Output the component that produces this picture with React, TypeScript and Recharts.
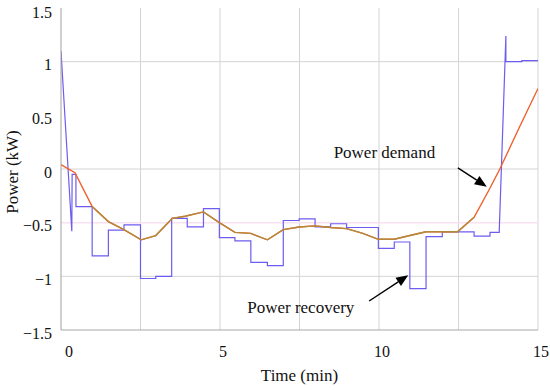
import React from 'react';
import {
  LineChart,
  Line,
  XAxis,
  YAxis,
  CartesianGrid,
  ReferenceLine,
  ReferenceDot,
} from 'recharts';

// stepped power recovery trace (min, kW)
const recoveryTime = [
  0, 0.34, 0.35, 0.47, 0.47, 0.98, 0.98, 1.49, 1.49, 1.98, 1.98, 2.5, 2.5, 2.98, 2.98, 3.48,
  3.48, 3.97, 3.97, 4.48, 4.48, 4.98, 4.98, 5.47, 5.47, 5.97, 5.97, 6.49, 6.49, 6.99, 6.99,
  7.49, 7.49, 7.99, 7.99, 8.48, 8.48, 8.98, 8.98, 9.98, 9.98, 10.48, 10.48, 10.97, 10.97,
  11.48, 11.48, 11.99, 11.99, 12.99, 12.99, 13.49, 13.49, 13.78, 13.99, 13.99, 14.49, 14.49, 15,
];
const recoveryPower = [
  1.1, -0.58, -0.05, -0.05, -0.35, -0.35, -0.81, -0.81, -0.57, -0.57, -0.52, -0.52, -1.02,
  -1.02, -1.0, -1.0, -0.46, -0.46, -0.54, -0.54, -0.37, -0.37, -0.64, -0.64, -0.67, -0.67,
  -0.87, -0.87, -0.9, -0.9, -0.48, -0.48, -0.465, -0.465, -0.54, -0.54, -0.51, -0.51, -0.545,
  -0.545, -0.74, -0.74, -0.68, -0.68, -1.115, -1.115, -0.63, -0.63, -0.585, -0.585, -0.625,
  -0.625, -0.59, -0.59, 1.24, 1.0, 1.0, 1.01, 1.01,
];

// smooth power demand curve (min, kW)
const demandTime = [
  0, 0.44, 0.98, 1.49, 1.98, 2.52, 2.98, 3.5, 3.9, 4.48, 4.98, 5.47, 5.97, 6.49, 6.99, 7.49,
  7.99, 8.48, 8.98, 9.49, 9.98, 10.48, 10.97, 11.48, 11.99, 12.47, 12.99, 13.45, 13.8, 14.4, 15,
];
const demandPower = [
  0.04, -0.035, -0.35, -0.49, -0.565, -0.66, -0.62, -0.46, -0.44, -0.4, -0.5, -0.59, -0.6,
  -0.66, -0.565, -0.54, -0.53, -0.545, -0.555, -0.6, -0.655, -0.655, -0.62, -0.585, -0.585,
  -0.585, -0.45, -0.2, 0.0, 0.38, 0.75,
];

const yTicks = [-1.5, -1, -0.5, 0, 0.5, 1, 1.5];
const xTicks = [0, 5, 10, 15];
const gridY = [1.5, 1, 0, -1];
const gridX = [2.5, 5, 7.5, 10, 12.5, 15];

const recovery = recoveryTime.map((t, i) => ({ t, p: recoveryPower[i] }));
const demand = demandTime.map((t, i) => ({ t, p: demandPower[i] }));
// middle part of the demand curve is drawn darker (olive)
const demandMid = demand.filter((d) => d.t >= 0.98 && d.t <= 12.99);

const font = '"Liberation Serif", "Times New Roman", serif';

const fmt = (v: number) => String(v).replace('-', '\u2212');

const XTick = (props: any) => {
  const { x, y, payload } = props;
  const dx = payload.value === 0 ? 8 : 3;
  return (
    <text x={x + dx} y={y} dy="0.71em" textAnchor="middle" fontSize={16} fontFamily={font} fill="#111">
      {payload.value}
    </text>
  );
};

// y tick labels sit right-aligned just left of the axis line
const YTick = (props: any) => {
  const { y, payload } = props;
  return (
    <text x={52} y={y + 3} textAnchor="end" dominantBaseline="central" fontSize={16} fontFamily={font} fill="#111">
      {fmt(payload.value)}
    </text>
  );
};

const arrowShape = (props: any) => {
  const { x1, y1, x2, y2 } = props;
  const ang = Math.atan2(y2 - y1, x2 - x1);
  const len = 12;
  const w = 5;
  const bx = x2 - len * Math.cos(ang);
  const by = y2 - len * Math.sin(ang);
  const px = -Math.sin(ang) * w;
  const py = Math.cos(ang) * w;
  return (
    <g>
      <line x1={x1} y1={y1} x2={bx} y2={by} stroke="#000" strokeWidth={1.4} />
      <polygon points={`${x2},${y2} ${bx + px},${by + py} ${bx - px},${by - py}`} fill="#000" />
    </g>
  );
};

const textLabel = (text: string) => (props: any) => {
  const { cx, cy } = props;
  return (
    <text x={cx} y={cy} textAnchor="middle" dominantBaseline="central" fontSize={17} fontFamily={font} fill="#111">
      {text}
    </text>
  );
};

const App: React.FC = () => {
  return (
    <div style={{ position: 'absolute', left: 0, top: 0, background: '#fff' }}>
      <LineChart width={550} height={390} margin={{ top: 8, right: 12, bottom: 0, left: 0 }}>
        <CartesianGrid
          stroke="#d4d4d4"
          horizontalValues={gridY}
          verticalValues={gridX}
        />
        <ReferenceLine y={-0.5} stroke="#f8e2f2" strokeWidth={1.5} />
        <XAxis
          type="number"
          dataKey="t"
          domain={[0, 15]}
          ticks={xTicks}
          allowDataOverflow
          height={60}
          tickLine={false}
          tickSize={6}
          tickMargin={10}
          axisLine={{ stroke: '#a8a8a8' }}
          tick={<XTick />}
          label={{
            value: 'Time (min)',
            position: 'insideBottom',
            offset: 9,
            fontSize: 17,
            fontFamily: font,
            fill: '#111',
          }}
        />
        <YAxis
          type="number"
          domain={[-1.5, 1.5]}
          ticks={yTicks}
          allowDataOverflow
          width={61}
          tickLine={false}
          axisLine={{ stroke: '#a0a0a0' }}
          tick={<YTick />}
          label={{
            content: (p: any) => {
              const vb = p.viewBox;
              const cx = vb.x + 12;
              const cy = vb.y + vb.height / 2 + 3;
              return (
                <text
                  x={cx}
                  y={cy}
                  transform={`rotate(-90 ${cx} ${cy})`}
                  textAnchor="middle"
                  dominantBaseline="central"
                  fontSize={17}
                  fontFamily={font}
                  fill="#111"
                >
                  Power (kW)
                </text>
              );
            },
          }}
        />
        <Line
          data={recovery}
          dataKey="p"
          type="linear"
          stroke="#6c5cf0"
          strokeWidth={1.2}
          dot={false}
          isAnimationActive={false}
        />
        <Line
          data={demand}
          dataKey="p"
          type="linear"
          stroke="#f0602c"
          strokeWidth={1.4}
          dot={false}
          isAnimationActive={false}
        />
        <Line
          data={demandMid}
          dataKey="p"
          type="linear"
          stroke="#b38a3c"
          strokeWidth={1.4}
          dot={false}
          isAnimationActive={false}
        />
        <ReferenceLine
          segment={[{ x: 12.48, y: 0.01 }, { x: 13.39, y: -0.165 }]}
          shape={arrowShape}
        />
        <ReferenceLine
          segment={[{ x: 9.69, y: -1.23 }, { x: 10.92, y: -0.99 }]}
          shape={arrowShape}
        />
        <ReferenceDot x={10.17} y={0.15} r={0} shape={textLabel('Power demand')} />
        <ReferenceDot x={7.54} y={-1.287} r={0} shape={textLabel('Power recovery')} />
      </LineChart>
    </div>
  );
};

export default App;
